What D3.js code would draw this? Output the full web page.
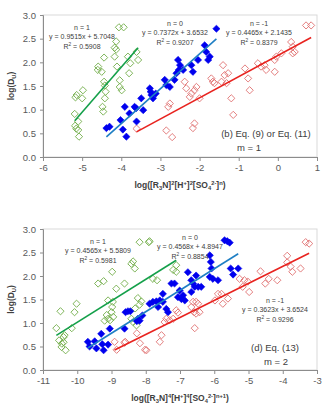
<!DOCTYPE html>
<html>
<head>
<meta charset="utf-8">
<script src="https://cdn.jsdelivr.net/npm/d3@7"></script>
<style>
  body { margin: 0; background: #fff; }
  svg { font-family: "Liberation Sans", Arial, sans-serif; }
</style>
</head>
<body>
<div id="chart"></div>
<script>
// ---- data ----
// top panel, m = 1
var topXTicks = [-6, -5, -4, -3, -2, -1, 0, 1];
var topGreen = [[-4.06,2.74],[-3.94,2.74],[-4.13,2.44],[-4.17,2.31],[-4.13,2.27],[-4.44,2.10],[-4.17,2.12],[-3.83,2.12],[-3.77,1.98],[-3.57,2.05],[-3.61,2.22],[-4.60,1.84],[-4.11,1.91],[-3.80,1.77],[-4.44,1.59],[-4.42,1.51],[-4.04,1.62],[-4.04,1.48],[-3.99,1.41],[-4.98,1.41],[-5.17,1.26],[-5.00,1.24],[-4.42,1.24],[-4.40,1.38],[-4.48,1.06],[-4.46,0.96],[-5.19,0.91],[-5.10,0.75],[-5.15,0.60],[-5.10,0.57],[-5.08,0.43],[-5.18,0.66],[-4.50,1.80],[-4.59,1.91],[-5.14,1.31]];
var topBlue = [[-4.38,0.61],[-4.30,0.64],[-3.96,0.58],[-3.87,0.43],[-4.02,0.78],[-3.79,0.92],[-3.61,0.75],[-3.91,1.06],[-3.66,1.06],[-3.62,1.03],[-3.49,1.24],[-3.44,0.99],[-3.23,1.31],[-3.19,1.24],[-3.27,1.45],[-3.25,1.38],[-3.12,1.34],[-2.89,1.63],[-2.85,1.52],[-2.76,1.48],[-2.64,1.63],[-2.59,1.77],[-2.50,1.94],[-2.53,1.84],[-2.55,2.05],[-2.42,1.84],[-2.21,1.94],[-2.17,1.80],[-2.04,2.05],[-1.87,2.36],[-1.83,2.22],[-1.74,2.12],[-1.78,2.05],[-1.57,2.71]];
var topRed = [[-3.61,0.60],[-2.76,1.13],[-2.80,1.06],[-2.85,0.56],[-2.70,0.42],[-2.38,1.59],[-2.34,1.45],[-2.21,1.34],[-2.13,1.41],[-2.08,1.48],[-2.25,1.27],[-2.00,1.24],[-2.13,0.71],[-2.17,0.61],[-1.70,1.66],[-1.66,1.59],[-1.62,1.56],[-1.44,1.59],[-1.36,1.73],[-1.27,1.77],[-1.31,1.56],[-1.40,1.94],[-1.19,1.24],[-1.14,0.89],[-0.84,1.87],[-0.76,1.66],[-0.72,1.41],[-0.51,1.98],[-0.43,1.91],[-0.30,1.84],[-0.34,1.94],[-0.08,2.05],[-0.04,2.12],[0.09,2.19],[-0.08,1.80],[0.38,2.33],[0.43,2.22],[0.38,2.19],[0.34,2.43],[0.72,2.78],[0.85,2.78]];
var topFits = [[0.9515, 5.7048], [0.7372, 3.6532], [0.4465, 2.1435]];   // slope, intercept for n = 1, 0, -1
var topEqs = [["n = 1", "y = 0.9515x + 5.7048", "0.5908"],
              ["n = 0", "y = 0.7372x + 3.6532", "0.9207"],
              ["n = -1", "y = 0.4465x + 2.1435", "0.8379"]];

// bottom panel, m = 2
var botXTicks = [-11, -10, -9, -8, -7, -6, -5, -4, -3];
var botGreen = [[-8.18,2.72],[-7.91,2.72],[-7.89,2.74],[-8.37,2.31],[-8.42,2.26],[-8.32,2.16],[-8.98,2.09],[-9.39,1.84],[-9.23,1.89],[-8.62,1.84],[-8.86,1.73],[-7.79,1.94],[-7.67,1.91],[-8.23,1.53],[-8.13,1.46],[-8.18,1.39],[-9.10,1.48],[-8.96,1.45],[-8.98,1.34],[-9.00,1.23],[-10.02,1.41],[-10.49,1.25],[-10.08,1.23],[-9.20,1.05],[-9.10,1.09],[-8.42,1.09],[-8.37,1.02],[-8.27,0.95],[-10.61,0.89],[-10.16,0.89],[-10.37,0.74],[-10.53,0.63],[-10.40,0.59],[-10.46,0.49],[-10.34,0.42],[-10.45,0.56],[-9.14,1.17],[-9.04,1.06],[-8.95,1.13],[-8.31,1.31],[-7.11,2.23],[-7.20,2.13],[-7.11,2.09],[-10.40,0.70]];
var botBlue = [[-9.69,0.60],[-9.49,0.61],[-9.64,0.50],[-9.27,0.55],[-9.44,0.46],[-9.23,0.42],[-9.10,0.54],[-9.30,0.77],[-9.05,0.88],[-8.62,0.88],[-8.52,1.25],[-8.45,1.25],[-8.59,1.23],[-8.23,1.09],[-8.18,1.05],[-8.10,1.16],[-8.26,1.04],[-7.89,1.41],[-7.79,1.45],[-7.69,1.46],[-7.59,1.48],[-7.50,1.45],[-7.64,1.34],[-7.50,1.62],[-7.25,1.84],[-7.16,1.84],[-7.40,1.30],[-7.35,1.23],[-7.01,1.69],[-6.96,1.51],[-7.06,1.55],[-6.91,1.59],[-6.86,1.48],[-6.77,2.08],[-6.53,2.01],[-6.67,1.91],[-6.62,1.84],[-6.57,1.77],[-6.67,1.66],[-6.47,1.77],[-6.38,1.77],[-6.13,2.44],[-6.10,2.30],[-6.08,2.16],[-6.13,1.98],[-6.04,1.94],[-5.89,1.91],[-5.70,2.76],[-5.62,2.74],[-5.55,2.71],[-5.52,2.16],[-5.45,2.03],[-5.30,2.16]];
var botRed = [[-8.91,0.60],[-8.62,0.58],[-7.98,0.42],[-7.59,0.60],[-7.54,0.74],[-7.45,1.02],[-7.40,1.09],[-7.30,1.06],[-7.20,1.09],[-7.11,1.27],[-6.67,1.34],[-6.62,1.45],[-6.53,1.45],[-6.47,1.41],[-6.59,1.23],[-6.43,1.23],[-6.53,1.20],[-6.57,0.89],[-5.98,1.48],[-5.89,1.62],[-5.79,1.62],[-5.75,1.41],[-5.60,1.52],[-5.26,1.94],[-5.12,1.91],[-5.02,1.88],[-5.17,1.77],[-4.98,1.66],[-4.65,2.10],[-4.51,1.84],[-4.41,1.94],[-4.16,1.91],[-3.87,2.43],[-3.87,2.29],[-3.77,2.20],[-3.72,2.09],[-3.48,2.16],[-3.33,2.72],[-3.23,2.69],[-8.85,0.43],[-8.60,0.60],[-8.26,0.78],[-8.02,0.43],[-8.17,0.57],[-7.06,1.22]];
var botFits = [[0.4565, 5.5809], [0.4568, 4.8947], [0.3623, 3.6524]];
var botEqs = [["n = 1", "y = 0.4565x + 5.5809", "0.5981"],
              ["n = 0", "y = 0.4568x + 4.8947", "0.8854"],
              ["n = -1", "y = 0.3623x + 3.6524", "0.9296"]];

var yTicks = [0, 0.5, 1, 1.5, 2, 2.5, 3];

// ---- drawing ----
var W = 326, H = 405;
var svg = d3.select("#chart").append("svg").attr("width", W).attr("height", H);

var markCol = ["#70ad47", "#0000ee", "#e07070"];
var lineCol = ["#14a04a", "#1f7fc4", "#e8231f"];
var textCol = "#404040";

function diamond(r) {
  return "M0," + (-r) + "L" + r + ",0L0," + r + "L" + (-r) + ",0Z";
}

// text with sub/superscripts: parts = [[text, "", "sub" or "sup"], ...]
function richText(g, x, y, parts, size, attrs) {
  var t = g.append("text").attr("x", x).attr("y", y).attr("font-size", size);
  for (var k in attrs) t.attr(k, attrs[k]);
  var shift = 0;
  parts.forEach(function (p) {
    var target = p[1] == "sup" ? -size * 0.38 : p[1] == "sub" ? size * 0.22 : 0;
    t.append("tspan")
      .attr("dy", target - shift)
      .attr("font-size", p[1] ? size * 0.68 : size)
      .text(p[0]);
    shift = target;
  });
  return t;
}

function drawPanel(cfg) {
  var x = d3.scaleLinear().domain(cfg.xDomain).range([43, 317]);
  var y = d3.scaleLinear().domain([0, 3]).range([cfg.bottom, cfg.top]);
  var g = svg.append("g");

  // plot frame
  g.append("rect")
    .attr("x", 43).attr("y", cfg.top)
    .attr("width", 274).attr("height", cfg.bottom - cfg.top)
    .attr("fill", "none").attr("stroke", "#d9d9d9").attr("stroke-width", 1);

  var xAxis = g.append("g").attr("transform", "translate(0," + cfg.bottom + ")")
    .call(d3.axisBottom(x).tickValues(cfg.xTicks).tickSize(4).tickPadding(3).tickFormat(function (d) { return String(d); }));
  var yAxis = g.append("g").attr("transform", "translate(43,0)")
    .call(d3.axisLeft(y).tickValues(yTicks).tickSize(3).tickPadding(4).tickFormat(d3.format(".1f")));
  [xAxis, yAxis].forEach(function (a) {
    a.select(".domain").attr("stroke", "#8c8c8c");
    a.selectAll(".tick line").attr("stroke", "#8c8c8c");
    a.selectAll(".tick text").attr("fill", "#595959").attr("font-size", 9.5)
      .attr("font-family", "Liberation Sans, Arial, sans-serif");
  });

  // markers: green (n=1), red (n=-1), blue (n=0)
  var series = [cfg.green, cfg.blue, cfg.red];
  [0, 2, 1].forEach(function (i) {
    g.append("g").selectAll("path").data(series[i]).join("path")
      .attr("d", diamond(3.6))
      .attr("transform", function (d) { return "translate(" + x(d[0]) + "," + y(d[1]) + ")"; })
      .attr("fill", i == 1 ? markCol[1] : "none")
      .attr("stroke", markCol[i])
      .attr("stroke-width", i == 1 ? 0.6 : 0.9);
  });

  // trend lines over each series' x range
  series.forEach(function (s, i) {
    var ext = d3.extent(s, function (d) { return d[0]; });
    var f = cfg.fits[i];
    g.append("line")
      .attr("x1", x(ext[0])).attr("y1", y(f[0] * ext[0] + f[1]))
      .attr("x2", x(ext[1])).attr("y2", y(f[0] * ext[1] + f[1]))
      .attr("stroke", lineCol[i]).attr("stroke-width", 1.6);
  });

  // equation labels
  cfg.eqs.forEach(function (e, i) {
    var p = cfg.eqPos[i];
    var a = { "text-anchor": "middle", "fill": textCol };
    richText(g, p[0], p[1], [[e[0], ""]], 7, a);
    richText(g, p[0], p[1] + 9, [[e[1], ""]], 7, a);
    richText(g, p[0], p[1] + 18.5, [["R", ""], ["2", "sup"], [" = " + e[2], ""]], 7, a);
  });

  // panel caption
  g.append("text").attr("x", cfg.cap[0]).attr("y", cfg.cap[1])
    .attr("text-anchor", "middle").attr("font-size", 9.5).attr("fill", textCol).text(cfg.caption);
  g.append("text").attr("x", cfg.cap[2]).attr("y", cfg.cap[1] + 14)
    .attr("text-anchor", "middle").attr("font-size", 9.5).attr("fill", textCol).text(cfg.mText);

  // axis titles
  richText(g, 180, cfg.bottom + 31, cfg.xLabel, 8.5,
    { "text-anchor": "middle", "font-weight": "bold", "fill": "#404040" });
  var yl = richText(g, 0, 0, [["log(D", ""], ["U", "sub"], [")", ""]], 8.5,
    { "text-anchor": "middle", "font-weight": "bold", "fill": "#404040" });
  yl.attr("transform", "translate(14," + ((cfg.top + cfg.bottom) / 2) + ") rotate(-90)");
}

drawPanel({
  xDomain: [-6, 1], xTicks: topXTicks, top: 15, bottom: 157,
  green: topGreen, blue: topBlue, red: topRed, fits: topFits, eqs: topEqs,
  eqPos: [[82, 30], [175, 26], [259, 26]],
  caption: "(b) Eq. (9) or Eq. (11)", mText: "m = 1", cap: [266, 137, 249],
  xLabel: [["log([R", ""], ["3", "sub"], ["N]", ""], ["2", "sup"], ["[H", ""], ["+", "sup"], ["]", ""], ["2", "sup"],
           ["[SO", ""], ["4", "sub"], ["2-", "sup"], ["]", ""], ["n", "sup"], [")", ""]]
});

drawPanel({
  xDomain: [-11, -3], xTicks: botXTicks, top: 229, bottom: 370,
  green: botGreen, blue: botBlue, red: botRed, fits: botFits, eqs: botEqs,
  eqPos: [[98, 244], [190, 240], [275, 303]],
  caption: "(d) Eq. (13)", mText: "m = 2", cap: [275, 351, 276],
  xLabel: [["log([R", ""], ["3", "sub"], ["N]", ""], ["4", "sup"], ["[H", ""], ["+", "sup"], ["]", ""], ["4", "sup"],
           ["[SO", ""], ["4", "sub"], ["2-", "sup"], ["]", ""], ["n+1", "sup"], [")", ""]]
});
</script>
</body>
</html>
